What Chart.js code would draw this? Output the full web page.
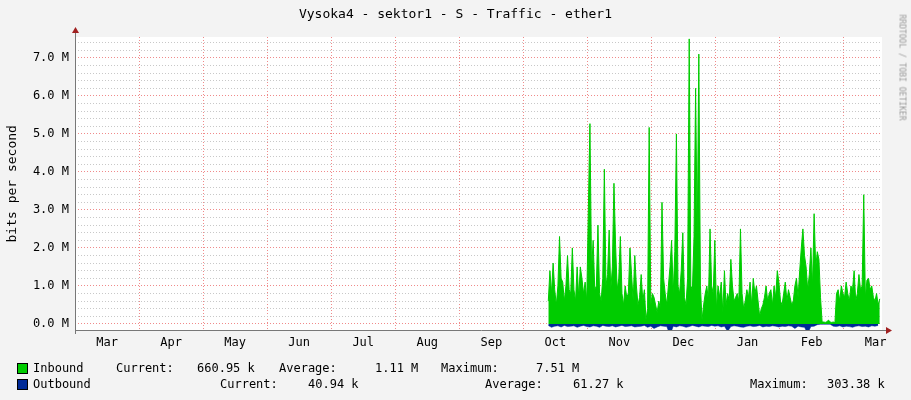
<!DOCTYPE html>
<html>
<head>
<meta charset="utf-8">
<script src="https://cdn.jsdelivr.net/npm/chart.js@4"></script>
<style>
    body { margin: 0; background: #F3F3F3; }
    #wrap { position: relative; width: 911px; height: 400px; font-family: "DejaVu Sans Mono", monospace; color: #000; }
    .t { position: absolute; font-size: 12px; white-space: pre; }
    .sw { position: absolute; width: 9px; height: 9px; border: 1px solid #000; }
</style>
</head>
<body>
<div id="wrap">
    <canvas id="chart" width="911" height="400"></canvas>
    <div class="t" style="left:0;width:911px;top:6px;text-align:center;font-size:13px;">Vysoka4 - sektor1 - S - Traffic - ether1</div>
    <div class="t" style="left:-44px;top:180px;transform:rotate(-90deg);width:110px;text-align:center;font-size:13px;">bits per second</div>
    <div class="t" style="left:842px;top:70px;transform:rotate(90deg);font-size:8px;color:#999;width:120px;">RRDTOOL / TOBI OETIKER</div>
    <div class="sw" style="left:17px;top:363px;background:#00CC00;"></div>
    <div class="t" style="left:33px;top:361px;">Inbound</div>
    <div class="t" style="left:116px;top:361px;">Current:</div>
    <div class="t" style="left:197px;top:361px;">660.95 k</div>
    <div class="t" style="left:279px;top:361px;">Average:</div>
    <div class="t" style="left:375px;top:361px;">1.11 M</div>
    <div class="t" style="left:441px;top:361px;">Maximum:</div>
    <div class="t" style="left:536px;top:361px;">7.51 M</div>
    <div class="sw" style="left:17px;top:379px;background:#002A97;"></div>
    <div class="t" style="left:33px;top:377px;">Outbound</div>
    <div class="t" style="left:220px;top:377px;">Current:</div>
    <div class="t" style="left:308px;top:377px;">40.94 k</div>
    <div class="t" style="left:485px;top:377px;">Average:</div>
    <div class="t" style="left:573px;top:377px;">61.27 k</div>
    <div class="t" style="left:750px;top:377px;">Maximum:</div>
    <div class="t" style="left:827px;top:377px;">303.38 k</div>
</div>
<script>
const monthLabels = ["Mar", "Apr", "May", "Jun", "Jul", "Aug", "Sep", "Oct", "Nov", "Dec", "Jan", "Feb", "Mar"];
const yTickLabels = ["0.0 M", "1.0 M", "2.0 M", "3.0 M", "4.0 M", "5.0 M", "6.0 M", "7.0 M"];

// x in months since Mar 1, one sample every 0.025 month
const inStart = 7.39;
const inStep = 0.025;
const inbound = [
    0.6, 1.4, 0.8, 1.6, 0.9, 0.5, 1.0, 2.3, 1.2, 1.1,
    0.6, 1.0, 1.8, 0.9, 0.8, 2.0, 0.9, 0.6, 1.5, 0.7,
    1.5, 1.2, 0.8, 1.1, 0.6, 3.0, 5.27, 1.4, 2.2, 0.9,
    1.0, 2.6, 0.8, 0.6, 1.2, 4.07, 1.0, 1.3, 2.47, 0.9,
    1.5, 3.7, 2.1, 0.9, 1.2, 2.3, 0.8, 0.5, 1.0, 0.7,
    0.8, 2.0, 1.3, 0.6, 1.8, 1.0, 0.5, 0.7, 1.3, 0.6,
    0.9, 0.1, 0.4, 5.17, 0.5, 0.8, 0.7, 0.5, 0.3, 0.6,
    0.4, 3.2, 1.2, 0.8, 0.5, 1.0, 1.5, 2.2, 0.8, 1.9,
    5.0, 1.0, 0.8, 1.4, 2.4, 0.7, 0.5, 1.2, 7.5, 1.0,
    0.9, 2.3, 6.2, 2.3, 7.1, 1.0, 0.1, 0.5, 0.8, 1.0,
    0.6, 2.5, 1.0, 0.8, 2.2, 0.4, 1.0, 0.7, 1.1, 0.3,
    1.4, 0.5, 0.8, 0.6, 1.7, 1.0, 0.6, 0.7, 0.8, 0.6,
    2.5, 0.8, 0.4, 0.6, 0.9, 0.7, 1.1, 0.5, 1.2, 0.8,
    1.0, 0.6, 0.2, 0.4, 0.5, 0.7, 1.0, 0.6, 0.8, 0.9,
    0.5, 1.0, 0.7, 1.4, 1.1, 0.6, 0.5, 0.8, 1.1, 0.6,
    0.9, 0.7, 0.5, 0.6, 1.0, 1.2, 0.7, 1.4, 2.0, 2.5,
    1.8, 1.5, 0.9, 1.3, 2.0, 1.0, 2.9, 1.5, 1.9, 1.7,
    0.7, 0.05,
    0.05, 0.04, 0.06, 0.1, 0.05, 0.04, 0.05, 0.03,
    0.8, 0.9, 0.6, 1.0, 0.8, 0.7, 1.1, 0.8, 0.6, 1.0,
    0.9, 1.4, 0.6, 0.8, 1.3, 0.9, 1.0, 3.4, 0.7, 1.15,
    1.2, 0.9, 1.0, 0.7, 0.6, 0.8, 0.5, 0.66
];

// outbound in k, one sample every 0.05 month (drawn below zero)
const outStart = 7.39;
const outStep = 0.05;
const outbound = [
    40, 90, 60, 50, 80, 40, 70, 60, 50, 90,
    60, 40, 70, 80, 50, 60, 90, 40, 60, 70,
    50, 80, 60, 40, 70, 60, 50, 80, 70, 60,
    40, 90, 60, 120, 80, 50, 60, 70, 300, 60,
    80, 50, 60, 90, 70, 40, 60, 80, 50, 60,
    70, 40, 60, 50, 80, 60, 200, 70, 50, 60,
    80, 90, 60, 50, 70, 60, 40, 80, 60, 70,
    50, 60, 80, 60, 70, 50, 60, 120, 60, 80,
    90, 250, 70, 60, 20, 10, 10, 10, 10, 60,
    70, 50, 80, 60, 70, 90, 60, 50, 70, 60,
    80, 50, 60, 41
];

const inPoints = inbound.map((v, i) => ({ x: inStart + i * inStep, y: v }));
const outPoints = outbound.map((v, i) => ({ x: outStart + i * outStep, y: -v / 1000 }));

const arrows = {
    id: "arrows",
    afterDraw(chart) {
        const c = chart.ctx, a = chart.chartArea;
        c.save();
        c.strokeStyle = "#777";
        c.lineWidth = 1;
        c.beginPath();
        c.moveTo(a.left, a.bottom + 0.5); c.lineTo(a.right + 6, a.bottom + 0.5);
        c.moveTo(a.left + 0.5, a.bottom + 4); c.lineTo(a.left + 0.5, a.top - 6);
        c.stroke();
        c.fillStyle = "#A02020";
        c.beginPath();
        c.moveTo(a.right + 10, a.bottom + 0.5); c.lineTo(a.right + 4, a.bottom - 3); c.lineTo(a.right + 4, a.bottom + 4);
        c.fill();
        c.beginPath();
        c.moveTo(a.left + 0.5, a.top - 10); c.lineTo(a.left - 3, a.top - 4); c.lineTo(a.left + 4, a.top - 4);
        c.fill();
        c.restore();
    }
};

const bg = {
    id: "bg",
    beforeDraw(chart) {
        const c = chart.ctx, a = chart.chartArea;
        c.fillStyle = "#FFFFFF";
        c.fillRect(a.left, a.top, a.right - a.left, a.bottom - a.top);
    }
};

const isWhole = v => Math.abs(v - Math.round(v)) < 0.01;

new Chart(document.getElementById("chart"), {
    type: "line",
    data: {
        datasets: [{
            data: inPoints,
            borderColor: "#00CC00",
            backgroundColor: "#00CC00",
            borderWidth: 1,
            fill: "origin",
            pointRadius: 0,
            tension: 0
        }, {
            data: outPoints,
            borderColor: "#002A97",
            backgroundColor: "#002A97",
            borderWidth: 0.5,
            fill: "origin",
            pointRadius: 0,
            tension: 0
        }]
    },
    options: {
        responsive: false,
        animation: false,
        layout: { padding: { left: 0, right: 29, top: 37, bottom: 0 } },
        plugins: { legend: { display: false }, tooltip: { enabled: false } },
        scales: {
            x: {
                type: "linear",
                min: 0,
                max: 12.6,
                afterFit: s => { s.height = 70; },
                afterBuildTicks: s => {
                    const t = [];
                    for (let i = 0; i <= 25; i++) t.push({ value: i * 0.5 });
                    s.ticks = t;
                },
                ticks: {
                    autoSkip: false,
                    maxRotation: 0,
                    padding: 6,
                    color: "#000",
                    font: { family: "DejaVu Sans Mono", size: 12 },
                    callback: v => (isWhole(v) ? "" : monthLabels[Math.floor(v)])
                },
                grid: {
                    drawTicks: false,
                    color: c => (isWhole(c.tick.value) ? "#F08A8A" : "rgba(0,0,0,0)")
                },
                border: { display: false, dash: [1, 2] }
            },
            y: {
                min: -0.16,
                max: 7.55,
                afterFit: s => { s.width = 75; },
                afterBuildTicks: s => {
                    const t = [];
                    for (let i = 0; i <= 37; i++) t.push({ value: i * 0.2 });
                    s.ticks = t;
                },
                ticks: {
                    autoSkip: false,
                    padding: 6,
                    color: "#000",
                    font: { family: "DejaVu Sans Mono", size: 12 },
                    callback: v => (isWhole(v) ? yTickLabels[Math.round(v)] : "")
                },
                grid: {
                    drawTicks: false,
                    color: c => (isWhole(c.tick.value) ? "#F08A8A" : "#C8C8C8")
                },
                border: { display: false, dash: [1, 2] }
            }
        }
    },
    plugins: [bg, arrows]
});
</script>
</body>
</html>
